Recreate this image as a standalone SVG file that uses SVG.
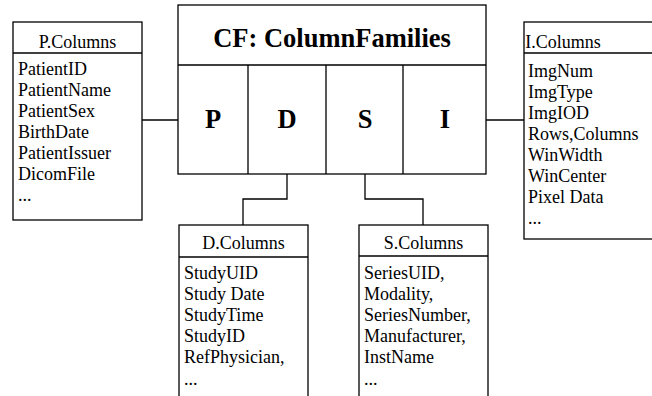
<svg xmlns="http://www.w3.org/2000/svg" width="652" height="396" viewBox="0 0 652 396">
<style>
.box{fill:#fff;stroke:#000;stroke-width:1.3}
.ln{fill:none;stroke:#000;stroke-width:1.3}
.t{font-family:"Liberation Serif","Times New Roman",serif;font-size:18px;fill:#000}
.h{text-anchor:middle}
.b{font-family:"Liberation Serif","Times New Roman",serif;font-weight:bold;font-size:26.5px;text-anchor:middle;fill:#000}
</style>
<g id="connectors">
<path class="ln" d="M142 120H178"/>
<path class="ln" d="M486 120H524"/>
<path class="ln" d="M287 174V199H243V225"/>
<path class="ln" d="M365 174V199H423V225"/>
</g>
<g id="cf">
<rect class="box" x="178" y="5" width="308" height="169"/>
<path class="ln" d="M178 65H486M248 65V174M326 65V174M403 65V174"/>
<text class="b" x="332" y="47">CF: ColumnFamilies</text>
<text class="b" x="213" y="128">P</text>
<text class="b" x="287" y="128">D</text>
<text class="b" x="365" y="128">S</text>
<text class="b" x="445" y="128">I</text>
</g>
<g id="pcolumns">
<rect class="box" x="13" y="22" width="129" height="198"/>
<path class="ln" d="M13 53H142"/>
<text class="t h" x="77.5" y="48">P.Columns</text>
<text class="t" x="18" y="75">PatientID</text>
<text class="t" x="18" y="96">PatientName</text>
<text class="t" x="18" y="117">PatientSex</text>
<text class="t" x="18" y="138">BirthDate</text>
<text class="t" x="18" y="159">PatientIssuer</text>
<text class="t" x="18" y="180">DicomFile</text>
<text class="t" x="18" y="201">...</text>
</g>
<g id="icolumns">
<rect class="box" x="524" y="22" width="140" height="217"/>
<path class="ln" d="M524 53H664"/>
<text class="t h" x="563" y="48">I.Columns</text>
<text class="t" x="528" y="77">ImgNum</text>
<text class="t" x="528" y="98">ImgType</text>
<text class="t" x="528" y="119">ImgIOD</text>
<text class="t" x="528" y="140">Rows,Columns</text>
<text class="t" x="528" y="161">WinWidth</text>
<text class="t" x="528" y="182">WinCenter</text>
<text class="t" x="528" y="203">Pixel Data</text>
<text class="t" x="528" y="224">...</text>
</g>
<g id="dcolumns">
<rect class="box" x="179" y="225" width="129" height="180"/>
<path class="ln" d="M179 257H308"/>
<text class="t h" x="243.5" y="249">D.Columns</text>
<text class="t" x="184" y="279">StudyUID</text>
<text class="t" x="184" y="300">Study Date</text>
<text class="t" x="184" y="321">StudyTime</text>
<text class="t" x="184" y="342">StudyID</text>
<text class="t" x="184" y="363">RefPhysician,</text>
<text class="t" x="184" y="385">...</text>
</g>
<g id="scolumns">
<rect class="box" x="359" y="225" width="129" height="180"/>
<path class="ln" d="M359 256H488"/>
<text class="t h" x="423.5" y="249">S.Columns</text>
<text class="t" x="364" y="279">SeriesUID,</text>
<text class="t" x="364" y="300">Modality,</text>
<text class="t" x="364" y="321">SeriesNumber,</text>
<text class="t" x="364" y="342">Manufacturer,</text>
<text class="t" x="364" y="363">InstName</text>
<text class="t" x="364" y="385">...</text>
</g>
</svg>
